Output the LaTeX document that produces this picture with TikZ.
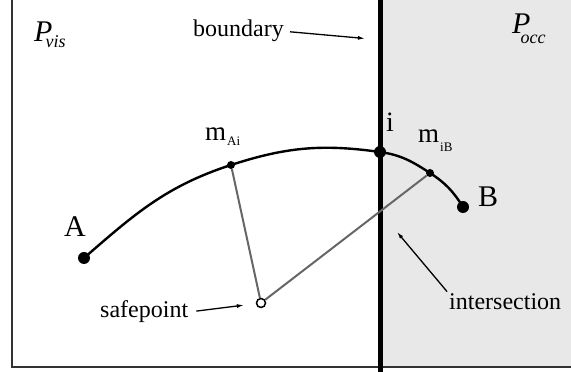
\documentclass[tikz,border=0pt]{standalone}
\usepackage{fontspec}
\setmainfont{Liberation Serif}
\usepackage{tikz}
\usetikzlibrary{arrows.meta}
\definecolor{occgrey}{HTML}{E8E8E8}
\definecolor{linkgrey}{HTML}{666666}
\definecolor{framegrey}{HTML}{333333}
\newcommand{\fs}[1]{\fontsize{#1}{#1}\selectfont}
\newcommand{\msub}[2]{{\fs{27}m}\kern1pt\raisebox{-#2}{\fs{13}#1}}
\newcommand{\psub}[3]{{\fs{30}\itshape P}\kern#3\raisebox{-#2}{\fs{18}\itshape #1}}

\begin{document}
\begin{tikzpicture}[x=1pt,y=1pt,
  bigdot/.style={circle,fill,inner sep=0pt,minimum size=12pt},
  smalldot/.style={circle,fill,inner sep=0pt,minimum size=8pt},
  lbl/.style={inner sep=0pt,anchor=base west},
  note/.style={-{Latex[length=7pt,width=4pt]},line width=1.3pt},
  link/.style={draw=linkgrey,line width=2pt}]
  \useasboundingbox (0,0) rectangle (571,372);
  % regions
  \fill[occgrey] (380,5) rectangle (571,372);
  \draw[line width=1.5pt,framegrey] (12,372) |- (571,5);
  \draw[line width=5pt] (380,0) -- (380,372);
  \node[lbl] (pvis) at (34,330) {\psub{vis}{6pt}{-7pt}};
  \node[lbl] (pocc) at (512,338) {\psub{occ}{10pt}{-10pt}};
  % path points
  \node[bigdot] (A) at (84,114) {};
  \node[smalldot] (mAi) at (231,207) {};
  \node[bigdot] (i) at (380,220) {};
  \node[smalldot] (miB) at (430,199) {};
  \node[bigdot] (B) at (463,165) {};
  \node[circle,draw,line width=1.5pt,fill=white,inner sep=0pt,minimum size=9pt] (safe) at (261,69) {};
  \draw[line width=2.4pt] (A.center) to[out=41,in=198] (mAi.center) to[out=18,in=172] (i.center)
    to[out=-8,in=147] (miB.center) to[out=-33,in=122] (B.center);
  \draw[link] (mAi) -- (safe) -- (miB);
  % labels
  \node[lbl] (labA) at (64,135) {\fs{30}A};
  \node[lbl] (labB) at (478,165) {\fs{30}B};
  \node[lbl] (labi) at (386,240) {\fs{28}i};
  \node[lbl] (labmAi) at (205,231) {\msub{Ai}{4.7pt}};
  \node[lbl] (labmiB) at (418,229) {\msub{iB}{8.7pt}};
  % notes
  \node[lbl] (bnd) at (193,335) {\fs{24}boundary};
  \coordinate (bndtip) at (365,333.5);
  \draw[note,shorten <=6pt] (bnd.east) -- (bndtip);
  \node[lbl] (sp) at (100,54) {\fs{24}safepoint};
  \draw[note,shorten <=8pt,shorten >=12pt] (sp.east) -- (safe);
  \node[lbl] (isec) at (449,62) {\fs{24}intersection};
  \coordinate (isectip) at (397,140);
  \draw[note,shorten <=3pt] (isec.north west) -- (isectip);
\end{tikzpicture}
\end{document}
